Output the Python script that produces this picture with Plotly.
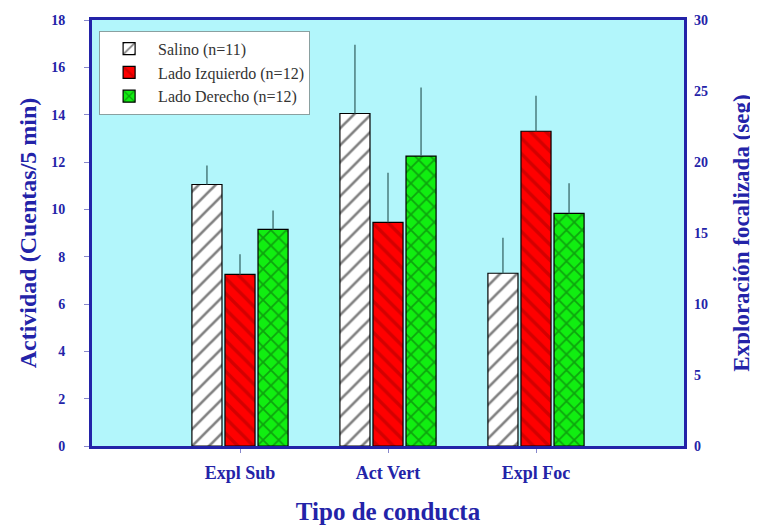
import plotly.graph_objects as go

categories = ["Expl Sub", "Act Vert", "Expl Foc"]
cat_pos = [1, 2, 3]
series_names = ["Salino (n=11)", "Lado Izquierdo (n=12)", "Lado Derecho (n=12)"]
salino = [11.05, 14.05, 7.3]
salino_err = [0.8, 2.9, 1.5]
izquierdo = [7.25, 9.45, 13.3]
izquierdo_err = [0.85, 2.1, 1.5]
derecho = [9.15, 12.25, 9.83]
derecho_err = [0.8, 2.9, 1.27]
left_ticks = [0, 2, 4, 6, 8, 10, 12, 14, 16, 18]
right_ticks = [0, 5, 10, 15, 20, 25, 30]

BLUE = "#2323a8"
FONT = "Liberation Serif"

styles = [
    dict(bg="white", fg="#000000", shape="/", size=12, sol=0.22),
    dict(bg="#ff0000", fg="#a80000", shape="\\", size=11, sol=0.3),
    dict(bg="#11ee11", fg="#0a5a0a", shape="x", size=11, sol=0.3),
]

fig = go.Figure()
for name, vals, errs, st in zip(series_names, [salino, izquierdo, derecho],
                                [salino_err, izquierdo_err, derecho_err], styles):
    fig.add_trace(go.Bar(
        x=cat_pos, y=vals, name=name,
        marker=dict(color=st["bg"], line=dict(color="black", width=1.2),
                    pattern=dict(shape=st["shape"], fgcolor=st["fg"], bgcolor=st["bg"],
                                 size=st["size"], solidity=st["sol"], fillmode="overlay")),
        error_y=dict(type="data", symmetric=False, array=errs,
                     arrayminus=[0] * len(errs), width=0, thickness=1.3,
                     color="#3a6a6a"),
    ))

# invisible trace to drive the right-hand axis
fig.add_trace(go.Scatter(x=[1], y=[0], yaxis="y2", mode="markers",
                         marker=dict(opacity=0), showlegend=False, hoverinfo="skip"))

fig.update_layout(
    width=758, height=528,
    margin=dict(l=84, r=82, t=12, b=90),
    paper_bgcolor="white",
    plot_bgcolor="#b2f6fb",
    barmode="group", bargap=0.33, bargroupgap=0.09,
    showlegend=True,
    legend=dict(x=0.012, y=0.975, xanchor="left", yanchor="top",
                bgcolor="white", bordercolor="#8aa0a0", borderwidth=1,
                font=dict(family=FONT, size=16, color="#333333"),
                tracegroupgap=0, itemwidth=48),
    xaxis=dict(range=[0, 4], tickmode="array", tickvals=cat_pos, ticktext=categories,
               showgrid=False, zeroline=False, showline=True, linecolor=BLUE, linewidth=3,
               mirror=True, ticks="outside", ticklen=4, tickcolor="#8888cc",
               ticklabelstandoff=4, automargin=False,
               tickfont=dict(family=FONT, size=18, color=BLUE, weight="bold"),
               title=dict(text="<b>Tipo de conducta</b>", font=dict(family=FONT, size=25, color=BLUE),
                          standoff=21)),
    yaxis=dict(range=[0, 18], tickmode="array", tickvals=left_ticks,
               showgrid=False, zeroline=False, showline=True, linecolor=BLUE, linewidth=3,
               mirror=True, ticks="outside", ticklen=5, tickcolor="#8888cc",
               ticklabelstandoff=16, automargin=False,
               tickfont=dict(family=FONT, size=14, color=BLUE, weight="bold"),
               title=dict(text="<b>Actividad (Cuentas/5 min)</b>", font=dict(family=FONT, size=24, color=BLUE),
                          standoff=8)),
    yaxis2=dict(range=[0, 30], tickmode="array", tickvals=right_ticks, overlaying="y", side="right",
                showgrid=False, zeroline=False, showline=False, ticks="",
                ticklabelstandoff=9, automargin=False,
                tickfont=dict(family=FONT, size=14, color=BLUE, weight="bold"),
                title=dict(text="<b>Exploración focalizada (seg)</b>", font=dict(family=FONT, size=23, color=BLUE),
                           standoff=25)),
)

fig.write_html("out.html")
